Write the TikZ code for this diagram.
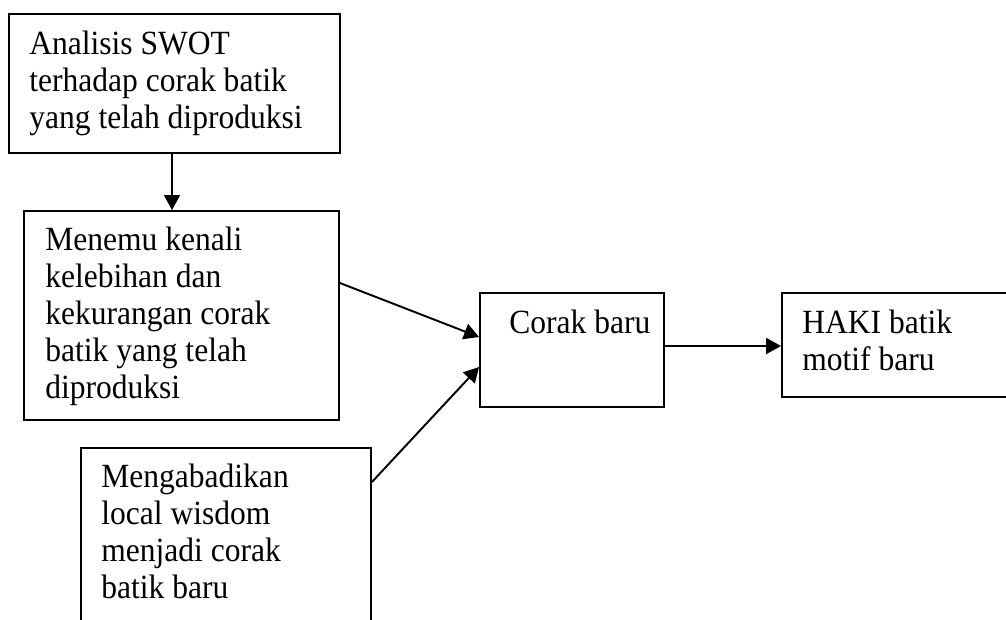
\documentclass[tikz,border=0pt]{standalone}
\usepackage{fontspec}
\setmainfont{Liberation Serif}[FakeStretch=0.93]
\usetikzlibrary{arrows.meta}

\begin{document}
\begin{tikzpicture}[x=0.02cm, y=-0.02cm,
	box/.style={draw, line width=1.1pt, rectangle, inner sep=0pt},
	txt/.style={anchor=north west, inner sep=0pt, align=left, font=\fontsize{19.3}{21}\selectfont},
	arr/.style={line width=1.1pt, -{Triangle[length=0.3cm, width=0.32cm]}}]
	\clip (0,0) rectangle (1006,619);
	\node[box, minimum width=6.62cm, minimum height=2.78cm] (swot) at (174.5,83.5) {};
	\node[box, minimum width=6.30cm, minimum height=4.18cm] (kenali) at (181.5,315.5) {};
	\node[box, minimum width=5.80cm, minimum height=3.84cm] (wisdom) at (226,544) {};
	\node[box, minimum width=3.68cm, minimum height=2.28cm] (corak) at (572,350) {};
	\node[box, minimum width=4.76cm, minimum height=2.08cm] (haki) at (901,345) {};
	
	\node[txt] (swottxt) at (29,31) {Analisis SWOT\\terhadap corak batik\\yang telah diproduksi};
	\node[txt] (kenalitxt) at (45,227) {Menemu kenali\\kelebihan dan\\kekurangan corak\\batik yang telah\\diproduksi};
	\node[txt] (wisdomtxt) at (101,464) {Mengabadikan\\local wisdom\\menjadi corak\\batik baru};
	\node[txt] (coraktxt) at (509,310) {Corak baru};
	\node[txt] (hakitxt) at (802,310) {HAKI batik\\motif baru};
	
	\draw[arr] (172,0 |- swot.south) -- (172,0 |- kenali.north);
	\draw[arr] (kenali.east |- 0,283) -- (corak.west |- 0,337);
	\draw[arr] (wisdom.east |- 0,482) -- (corak.west |- 0,367);
	\draw[arr] (corak.east |- 0,346) -- (haki.west |- 0,346);
\end{tikzpicture}
\end{document}
